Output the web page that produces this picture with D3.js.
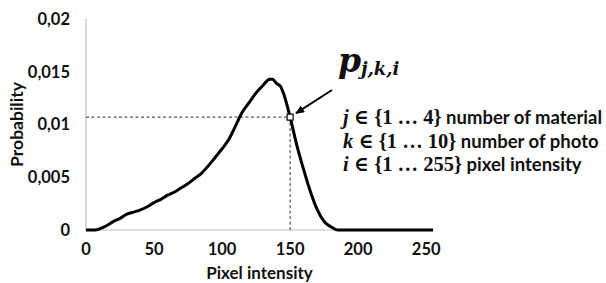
<html>
<head>
<style>
  body { margin: 0; background: #fff; }
  svg text { font-family: Lato, "Open Sans", sans-serif; font-weight: bold; fill: #111; }
  .math { font-family: "Liberation Serif", "DejaVu Serif", serif; font-weight: bold; }
  .big { font-family: "DejaVu Serif", serif; font-weight: bold; }
  .it { font-style: italic; }
</style>
</head>
<body>
<svg width="606" height="283"></svg>
<script src="https://cdnjs.cloudflare.com/ajax/libs/d3/7.8.5/d3.min.js"></script>
<script>
  // histogram: [pixel intensity, probability]
  const intensity = [0, 5, 8, 10, 15, 20, 25, 30, 35, 40, 45, 50, 55, 60, 65, 70, 75, 80, 85, 90, 95, 100,
    105, 110, 115, 120, 125, 130, 135, 137, 140, 143, 145, 150, 155, 160, 165, 170, 175, 180, 185, 255];
  const probability = [0, 0, 0.00002, 0.0001, 0.0004, 0.0008, 0.0011, 0.0015, 0.0017, 0.0019, 0.0022, 0.0026,
    0.0029, 0.0033, 0.0036, 0.0040, 0.0044, 0.0049, 0.0054, 0.0061, 0.0069, 0.0077, 0.0086, 0.0099, 0.0112,
    0.0121, 0.0130, 0.0137, 0.0143, 0.0143, 0.0139, 0.0136, 0.0130, 0.0107, 0.0080, 0.0057, 0.0036, 0.0019,
    0.0008, 0.0003, 0, 0];
  const xTicks = [0, 50, 100, 150, 200, 250];
  const yTicks = [0, 0.005, 0.01, 0.015, 0.02];
  const picked = {x: 150, y: 0.0107};
  const notes = [
    {sym: 'j', range: '{1 … 4}', text: ' number of material'},
    {sym: 'k', range: '{1 … 10}', text: ' number of photo'},
    {sym: 'i', range: '{1 … 255}', text: ' pixel intensity'}
  ];

  const svg = d3.select('svg');
  const x = d3.scaleLinear().domain([0, 255]).range([86, 433]);
  const y = d3.scaleLinear().domain([0, 0.02]).range([230, 19]);

  // axes
  svg.append('line').attr('x1', x(0)).attr('x2', x(0)).attr('y1', y(0.02)).attr('y2', y(0))
      .attr('stroke', '#bfbfbf').attr('stroke-width', 1.2);
  svg.append('line').attr('x1', x(0)).attr('x2', x(255)).attr('y1', y(0)).attr('y2', y(0))
      .attr('stroke', '#bfbfbf').attr('stroke-width', 1.2);

  svg.selectAll('.ytick').data(yTicks).enter().append('text')
      .attr('x', 70).attr('y', d => y(d)).attr('dy', '0.35em')
      .attr('text-anchor', 'end').attr('font-size', 16.5)
      .text(d => d === 0 ? '0' : String(d).replace('.', ','));

  svg.selectAll('.xtick').data(xTicks).enter().append('text')
      .attr('x', d => x(d)).attr('y', 249).attr('dy', '0.35em')
      .attr('text-anchor', 'middle').attr('font-size', 16.5)
      .text(d => d);

  svg.append('text').attr('x', (x(0) + x(255)) / 2).attr('y', 273).attr('dy', '0.35em')
      .attr('text-anchor', 'middle').attr('font-size', 17).text('Pixel intensity');
  svg.append('text').attr('transform', 'translate(17,' + y(0.01) + ') rotate(-90)')
      .attr('dy', '0.35em').attr('text-anchor', 'middle').attr('font-size', 17.5).text('Probability');

  // dashed guides to the picked point
  svg.append('line').attr('x1', x(0)).attr('x2', x(picked.x)).attr('y1', y(picked.y)).attr('y2', y(picked.y))
      .attr('stroke', '#333').attr('stroke-width', 1).attr('stroke-dasharray', '3,2.5');
  svg.append('line').attr('x1', x(picked.x)).attr('x2', x(picked.x)).attr('y1', y(picked.y)).attr('y2', y(0))
      .attr('stroke', '#333').attr('stroke-width', 1).attr('stroke-dasharray', '3,2.5');

  // curve
  const pts = intensity.map((v, i) => [v, probability[i]]);
  const line = d3.line().x(d => x(d[0])).y(d => y(d[1])).curve(d3.curveMonotoneX);
  svg.append('path').datum(pts).attr('d', line)
      .attr('fill', 'none').attr('stroke', '#000').attr('stroke-width', 3).attr('stroke-linejoin', 'round');

  svg.append('rect').attr('x', x(picked.x) - 3).attr('y', y(picked.y) - 3).attr('width', 6).attr('height', 6)
      .attr('fill', '#fff').attr('stroke', '#000').attr('stroke-width', 1.2);

  // arrow
  svg.append('defs').append('marker').attr('id', 'arrow')
      .attr('markerWidth', 10).attr('markerHeight', 10).attr('refX', 8).attr('refY', 4)
      .attr('orient', 'auto').attr('markerUnits', 'userSpaceOnUse')
      .append('path').attr('d', 'M0,0 L9,4 L0,8 z').attr('fill', '#000');
  svg.append('line').attr('x1', 332).attr('y1', 90).attr('x2', x(picked.x) + 6).attr('y2', y(picked.y) - 4)
      .attr('stroke', '#000').attr('stroke-width', 2).attr('marker-end', 'url(#arrow)');

  // label p_{j,k,i}
  const p = svg.append('text').attr('x', 338).attr('y', 72).attr('class', 'big it');
  p.append('tspan').attr('font-size', 33).text('p');
  p.append('tspan').attr('font-size', 18).attr('dy', 3).text('j,k,i');

  notes.forEach((n, i) => {
    const t = svg.append('text').attr('x', 343).attr('y', 118 + i * 23.5).attr('dy', '0.35em').attr('font-size', 18.5);
    t.append('tspan').attr('class', 'math it').attr('font-size', 20.5).text(n.sym);
    t.append('tspan').attr('class', 'math').attr('font-size', 20.5).text(' ∈ ' + n.range);
    t.append('tspan').text(n.text);
  });
</script>
</body>
</html>
